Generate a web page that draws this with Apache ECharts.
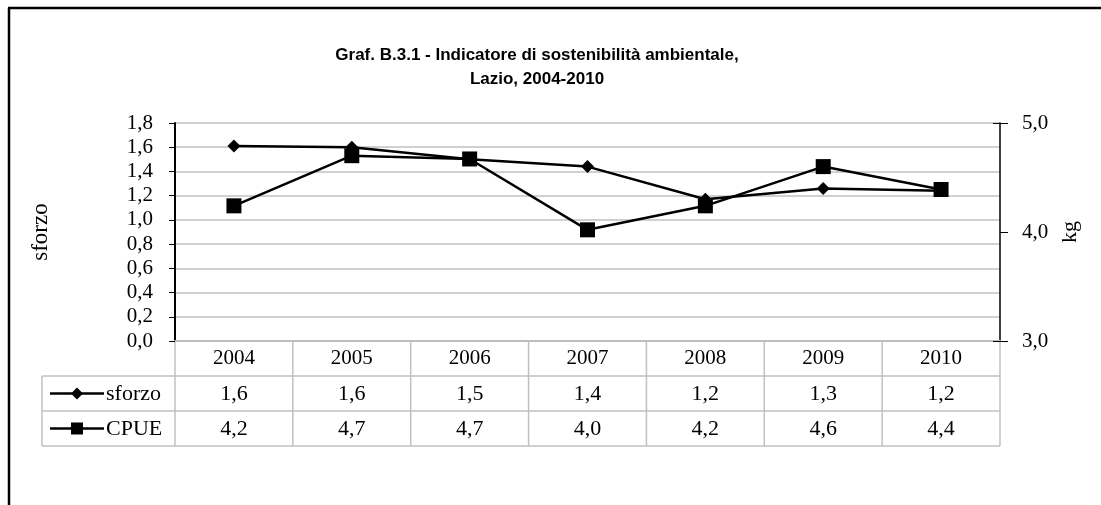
<!DOCTYPE html>
<html>
<head>
<meta charset="utf-8">
<script src="https://cdn.jsdelivr.net/npm/echarts@6/dist/echarts.min.js"></script>
<style>
  html, body { margin: 0; padding: 0; background: #fff; }
  #chart { width: 1101px; height: 505px; }
</style>
</head>
<body>
<div id="chart"></div>
<script>
  // data
  const anni = ['2004', '2005', '2006', '2007', '2008', '2009', '2010']
  const sforzo = [1.61, 1.60, 1.50, 1.44, 1.17, 1.26, 1.24]
  const cpue = [4.24, 4.70, 4.67, 4.02, 4.24, 4.60, 4.39]
  const leftTicks = { min: 0, max: 1.8, interval: 0.2 }
  const rightTicks = { min: 3, max: 5, interval: 1 }

  const serif = 'Liberation Serif'
  const fmt = v => v.toFixed(1).replace('.', ',')

  const chart = echarts.init(document.getElementById('chart'))

  chart.setOption({
    animation: false,
    title: {
      text: 'Graf. B.3.1 - Indicatore di sostenibilità ambientale,\nLazio, 2004-2010',
      left: 532,
      top: 38,
      textAlign: 'center',
      textStyle: {
        fontFamily: 'Liberation Sans',
        fontWeight: 'bold',
        fontSize: 17,
        lineHeight: 24,
        color: '#000'
      }
    },
    grid: { left: 175, right: 101, top: 123, height: 218, containLabel: false },
    xAxis: {
      type: 'category',
      data: anni,
      boundaryGap: true,
      axisLine: { lineStyle: { color: '#bdbdbd', width: 2 } },
      axisTick: { show: false },
      axisLabel: { margin: 7, fontFamily: serif, fontSize: 21, color: '#000' }
    },
    yAxis: [
      {
        type: 'value',
        min: leftTicks.min,
        max: leftTicks.max,
        interval: leftTicks.interval,
        name: 'sforzo',
        nameLocation: 'middle',
        nameGap: 123,
        nameRotate: 90,
        nameTextStyle: { fontFamily: serif, fontSize: 23, color: '#000' },
        axisLine: { show: true, lineStyle: { color: '#000', width: 2 } },
        axisTick: { show: true, length: 6, lineStyle: { color: '#000', width: 1 } },
        axisLabel: { margin: 22, fontFamily: serif, fontSize: 21, color: '#000', formatter: fmt },
        splitLine: { lineStyle: { color: '#c0c0c0', width: 1.5 } }
      },
      {
        type: 'value',
        min: rightTicks.min,
        max: rightTicks.max,
        interval: rightTicks.interval,
        name: 'kg',
        nameLocation: 'middle',
        nameGap: 56,
        nameRotate: 90,
        nameTextStyle: { fontFamily: serif, fontSize: 22, color: '#000' },
        position: 'right',
        axisLine: { show: true, lineStyle: { color: '#000', width: 1.5 } },
        axisTick: { show: true, length: 8, lineStyle: { color: '#000', width: 1 } },
        axisLabel: { margin: 22, fontFamily: serif, fontSize: 21, color: '#000', formatter: fmt },
        splitLine: { show: false }
      },
      {
        // inner half of the crossing ticks on the kg axis
        type: 'value',
        min: rightTicks.min + rightTicks.interval,
        max: rightTicks.max,
        interval: rightTicks.interval,
        position: 'right',
        axisLine: { show: false },
        axisTick: { show: true, inside: true, length: 7, lineStyle: { color: '#000', width: 1 } },
        axisLabel: { show: false },
        splitLine: { show: false }
      }
    ],
    series: [
      {
        name: 'sforzo',
        type: 'line',
        yAxisIndex: 0,
        data: sforzo,
        symbol: 'diamond',
        symbolSize: 13,
        lineStyle: { color: '#000', width: 2.5 },
        itemStyle: { color: '#000' },
        z: 3
      },
      {
        name: 'CPUE',
        type: 'line',
        yAxisIndex: 1,
        data: cpue,
        symbol: 'rect',
        symbolSize: 15,
        lineStyle: { color: '#000', width: 2.5 },
        itemStyle: { color: '#000' },
        z: 4
      }
    ]
  })

  // data table under the plot, aligned to the category axis
  function drawTable() {
    const x0 = chart.convertToPixel({ xAxisIndex: 0 }, anni[0])
    const x1 = chart.convertToPixel({ xAxisIndex: 0 }, anni[1])
    const half = (x1 - x0) / 2
    const left = x0 - half
    const right = chart.convertToPixel({ xAxisIndex: 0 }, anni[anni.length - 1]) + half
    const top = chart.convertToPixel({ yAxisIndex: 0 }, 0)
    const r1 = top + 35, r2 = r1 + 35, r3 = r2 + 35
    const labLeft = 42
    const grey = { stroke: '#c0c0c0', lineWidth: 1.5 }
    const els = []
    const hline = (xa, xb, y) => els.push({ type: 'line', shape: { x1: xa, y1: y, x2: xb, y2: y }, style: grey })
    const vline = (x, ya, yb) => els.push({ type: 'line', shape: { x1: x, y1: ya, x2: x, y2: yb }, style: grey })
    hline(left, right, r1)
    hline(labLeft, right, r2)
    hline(labLeft, right, r3)
    hline(labLeft, left, r1)
    vline(labLeft, r1, r3)
    for (let i = 0; i <= anni.length; i++) {
      vline(left + i * 2 * half, top, r3)
    }
    const cell = (x, y, t, align) => els.push({
      type: 'text', x: x, y: y + 1,
      style: { text: t, fontFamily: serif, fontSize: 22, fill: '#000', align: align || 'center', verticalAlign: 'middle' }
    })
    anni.forEach((a, i) => {
      const cx = chart.convertToPixel({ xAxisIndex: 0 }, a)
      cell(cx, (r1 + r2) / 2, fmt(sforzo[i]))
      cell(cx, (r2 + r3) / 2, fmt(cpue[i]))
    })
    // legend keys
    const ya = (r1 + r2) / 2, yb = (r2 + r3) / 2
    els.push({ type: 'line', shape: { x1: 50, y1: ya, x2: 104, y2: ya }, style: { stroke: '#000', lineWidth: 2.5 } })
    els.push({ type: 'polygon', shape: { points: [[77, ya - 6], [83, ya], [77, ya + 6], [71, ya]] }, style: { fill: '#000' } })
    cell(106, ya, 'sforzo', 'left')
    els.push({ type: 'line', shape: { x1: 50, y1: yb, x2: 104, y2: yb }, style: { stroke: '#000', lineWidth: 2.5 } })
    els.push({ type: 'rect', shape: { x: 71, y: yb - 6, width: 12, height: 12 }, style: { fill: '#000' } })
    cell(106, yb, 'CPUE', 'left')
    // outer frame
    els.push({ type: 'line', shape: { x1: 9, y1: 8, x2: 9, y2: 505 }, style: { stroke: '#000', lineWidth: 2.5 } })
    els.push({ type: 'line', shape: { x1: 8, y1: 8, x2: 1101, y2: 8 }, style: { stroke: '#000', lineWidth: 2.5 } })
    chart.setOption({ graphic: { elements: els } })
  }
  drawTable()
</script>
</body>
</html>
